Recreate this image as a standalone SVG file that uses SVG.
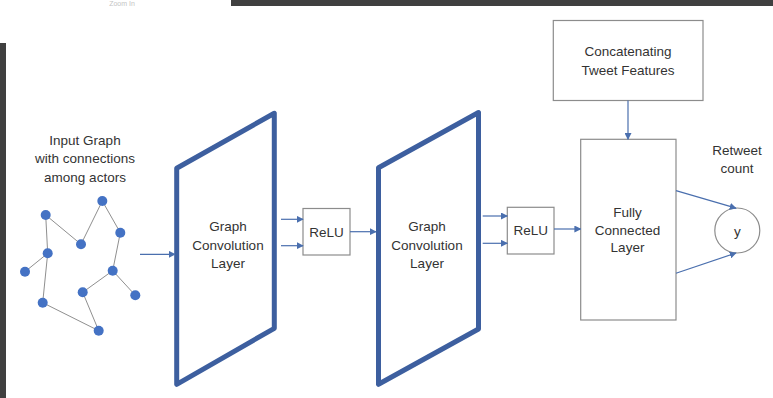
<svg xmlns="http://www.w3.org/2000/svg" width="773" height="398" viewBox="0 0 773 398">
  <style>
    .lbl { font-family: "Liberation Sans", Arial, sans-serif; font-size: 13.5px; fill: #333333; text-anchor: middle; }
    .box { fill: #ffffff; stroke: #8c8c8c; stroke-width: 1.2; }
    .layer { fill: #ffffff; stroke: #3d5f9f; stroke-width: 5; stroke-linejoin: round; }
    .edge { stroke: #8f8f8f; stroke-width: 1; fill: none; }
    .node { fill: #4472c4; }
    .arrow { stroke: #4a6fae; stroke-width: 1.2; fill: none; marker-end: url(#head); }
  </style>
  <defs>
    <marker id="head" viewBox="0 0 10 10" refX="9" refY="5" markerWidth="7" markerHeight="7" markerUnits="userSpaceOnUse" orient="auto">
      <path d="M0,0 L10,5 L0,10 z" fill="#4a6fae"/>
    </marker>
  </defs>

  <rect width="773" height="398" fill="#ffffff"/>

  <!-- window chrome -->
  <rect x="231" y="0" width="542" height="6" fill="#404040"/>
  <rect x="0" y="43" width="6" height="355" fill="#404040"/>
  <text x="122" y="6" font-family="Liberation Sans, Arial, sans-serif" font-size="7" fill="#c4c4c4" text-anchor="middle">Zoom In</text>

  <!-- input graph -->
  <g id="input-graph">
    <text class="lbl" x="85" y="145">Input Graph</text>
    <text class="lbl" x="85" y="163">with connections</text>
    <text class="lbl" x="85" y="182">among actors</text>
    <g class="edge">
      <line x1="45.7" y1="215" x2="81" y2="244.3"/>
      <line x1="81" y1="244.3" x2="102.3" y2="201"/>
      <line x1="102.3" y1="201" x2="120.3" y2="232.7"/>
      <line x1="120.3" y1="232.7" x2="112.7" y2="270.7"/>
      <line x1="112.7" y1="270.7" x2="82.7" y2="292.3"/>
      <line x1="112.7" y1="270.7" x2="135.3" y2="295.3"/>
      <line x1="82.7" y1="292.3" x2="98.7" y2="330.7"/>
      <line x1="98.7" y1="330.7" x2="42.7" y2="302.7"/>
      <line x1="42.7" y1="302.7" x2="47.7" y2="253.3"/>
      <line x1="47.7" y1="253.3" x2="45.7" y2="215"/>
      <line x1="47.7" y1="253.3" x2="25" y2="271.7"/>
    </g>
    <g class="node">
      <circle cx="102.3" cy="201" r="5"/>
      <circle cx="45.7" cy="215" r="5"/>
      <circle cx="81" cy="244.3" r="5"/>
      <circle cx="120.3" cy="232.7" r="5"/>
      <circle cx="47.7" cy="253.3" r="5"/>
      <circle cx="25" cy="271.7" r="5"/>
      <circle cx="112.7" cy="270.7" r="5"/>
      <circle cx="82.7" cy="292.3" r="5"/>
      <circle cx="135.3" cy="295.3" r="5"/>
      <circle cx="42.7" cy="302.7" r="5"/>
      <circle cx="98.7" cy="330.7" r="5"/>
    </g>
  </g>

  <!-- first graph convolution layer -->
  <g id="gcn1">
    <polygon class="layer" points="176.7,168.3 274.3,113.3 274.3,328.3 176.7,384.3"/>
    <text class="lbl" x="228" y="231">Graph</text>
    <text class="lbl" x="228" y="249.5">Convolution</text>
    <text class="lbl" x="228" y="268">Layer</text>
  </g>

  <g id="relu1">
    <rect class="box" x="303" y="208.5" width="47" height="46.5"/>
    <text class="lbl" x="326.5" y="236.5">ReLU</text>
  </g>

  <!-- second graph convolution layer -->
  <g id="gcn2">
    <polygon class="layer" points="378.5,167.7 478.5,112.5 478.5,329 378.5,384.3"/>
    <text class="lbl" x="427" y="231">Graph</text>
    <text class="lbl" x="427" y="249.5">Convolution</text>
    <text class="lbl" x="427" y="268">Layer</text>
  </g>

  <g id="relu2">
    <rect class="box" x="507.3" y="207.3" width="46.7" height="46.7"/>
    <text class="lbl" x="530.7" y="235">ReLU</text>
  </g>

  <g id="tweet-features">
    <rect class="box" x="553.3" y="20.5" width="149.7" height="80"/>
    <text class="lbl" x="628" y="56">Concatenating</text>
    <text class="lbl" x="628" y="75">Tweet Features</text>
  </g>

  <g id="fully-connected">
    <rect class="box" x="580.7" y="139.3" width="95.3" height="180.7"/>
    <text class="lbl" x="627.5" y="217">Fully</text>
    <text class="lbl" x="627.5" y="235">Connected</text>
    <text class="lbl" x="627.5" y="252">Layer</text>
  </g>

  <g id="output">
    <text class="lbl" x="737" y="155">Retweet</text>
    <text class="lbl" x="737" y="172.5">count</text>
    <circle cx="737.3" cy="230.5" r="22.5" fill="#ffffff" stroke="#8c8c8c" stroke-width="1.2"/>
    <text class="lbl" x="737.3" y="235.5" font-size="16px">y</text>
  </g>

  <!-- connectors -->
  <g id="connectors">
    <line class="arrow" x1="140" y1="254.3" x2="175" y2="254.3"/>
    <line class="arrow" x1="281" y1="219.3" x2="303" y2="219.3"/>
    <line class="arrow" x1="281" y1="245.7" x2="303" y2="245.7"/>
    <line class="arrow" x1="350" y1="231.7" x2="376" y2="231.7"/>
    <line class="arrow" x1="482.7" y1="216" x2="507.3" y2="216"/>
    <line class="arrow" x1="482.7" y1="243.3" x2="507.3" y2="243.3"/>
    <line class="arrow" x1="554" y1="229" x2="580.7" y2="229"/>
    <line class="arrow" x1="628" y1="100.5" x2="628" y2="139.3"/>
    <line class="arrow" x1="676" y1="190.7" x2="736" y2="208.2"/>
    <line class="arrow" x1="676" y1="273.3" x2="736" y2="253"/>
  </g>
</svg>
